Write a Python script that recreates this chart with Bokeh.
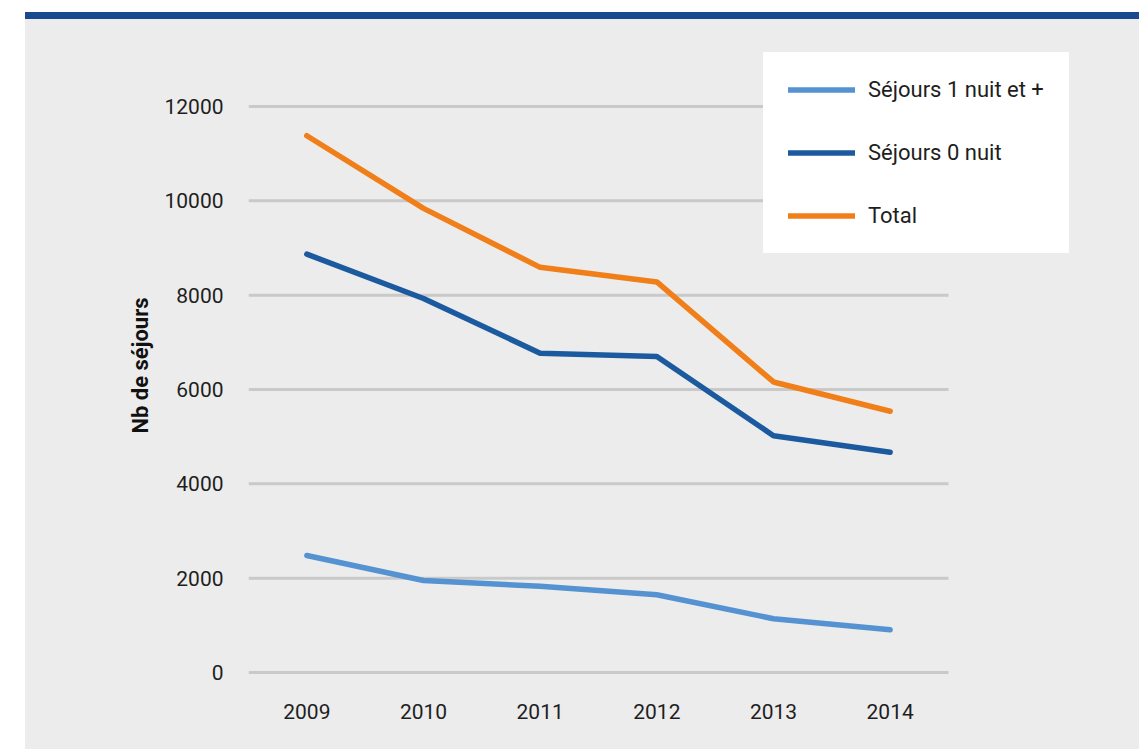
from bokeh.plotting import figure
from bokeh.models import (Range1d, FixedTicker, Legend, LegendItem, Div, Spacer,
                          ColumnDataSource)
from bokeh.layouts import row, column
from bokeh.embed import file_html
from bokeh.resources import INLINE

# ---- data ----
years = [2009, 2010, 2011, 2012, 2013, 2014]
year_labels = ["2009", "2010", "2011", "2012", "2013", "2014"]
sejours_1_nuit = [2480, 1950, 1830, 1650, 1140, 905]
sejours_0_nuit = [8870, 7930, 6770, 6700, 5020, 4670]
total = [11380, 9840, 8590, 8280, 6160, 5540]
y_ticks = [0, 2000, 4000, 6000, 8000, 10000, 12000]
series_names = ["Séjours 1 nuit et +", "Séjours 0 nuit", "Total"]
y_axis_title = "Nb de séjours"

# ---- styles ----
FONT = "Roboto"
BG = "#ececec"
TXT = "#1e1e1e"
colors = ["#5592d2", "#1c5aa0", "#f07f19"]

FIG_W, FIG_H = 1114, 730

p = figure(width=FIG_W, height=FIG_H, output_backend="svg", toolbar_location=None,
           x_range=Range1d(2008.5, 2015.803), y_range=Range1d(-381, 13399),
           min_border_left=223, min_border_right=39, min_border_top=21,
           min_border_bottom=59)
p.background_fill_color = BG
p.border_fill_color = BG
p.outline_line_color = None
p.grid.visible = False
p.styles = {"background-color": BG}

# grid lines as segments spanning the category band
gsrc = ColumnDataSource(dict(x0=[years[0] - 0.5] * len(y_ticks),
                             x1=[years[-1] + 0.5] * len(y_ticks),
                             y=y_ticks))
p.segment(x0="x0", x1="x1", y0="y", y1="y", source=gsrc,
          line_color="#c9c9c9", line_width=3)

renderers = []
for vals, col in zip([sejours_1_nuit, sejours_0_nuit, total], colors):
    r = p.line(years, vals, line_color=col, line_width=5.5,
               line_cap="round", line_join="round")
    renderers.append(r)

# axes
p.xaxis.ticker = FixedTicker(ticks=years)
p.xaxis.major_label_overrides = {y: l for y, l in zip(years, year_labels)}
p.yaxis.ticker = FixedTicker(ticks=y_ticks)
p.yaxis.major_label_overrides = {t: str(t) for t in y_ticks}
for ax in (p.xaxis[0], p.yaxis[0]):
    ax.axis_line_color = None
    ax.major_tick_line_color = None
    ax.minor_tick_line_color = None
    ax.major_label_text_font = FONT
    ax.major_label_text_font_size = "21px"
    ax.major_label_text_color = TXT
p.xaxis.major_label_standoff = 7
p.yaxis.major_label_standoff = 19
p.yaxis.axis_label = y_axis_title
p.yaxis.axis_label_text_font = FONT
p.yaxis.axis_label_text_font_size = "22px"
p.yaxis.axis_label_text_font_style = "bold"
p.yaxis.axis_label_text_color = "#111111"
p.yaxis.axis_label_standoff = 8

legend = Legend(items=[LegendItem(label=n, renderers=[r])
                       for n, r in zip(series_names, renderers)],
                location=(515, 437))
legend.glyph_width = 67
legend.glyph_height = 25
legend.label_height = 25
legend.spacing = 38
legend.padding = 0
legend.margin = 0
legend.label_standoff = 13
legend.label_text_font = FONT
legend.label_text_font_size = "22px"
legend.label_text_color = TXT
legend.background_fill_color = "white"
legend.background_fill_alpha = 1.0
legend.border_line_color = "white"
legend.border_line_width = 25
legend.border_line_join = "miter"
p.add_layout(legend, "center")

bar = Div(width=FIG_W, height=7, margin=0,
          styles={"background-color": "#1a4a8e"})
layout = row(Spacer(width=25, height=10, margin=0),
             column(Spacer(width=FIG_W, height=12, margin=0), bar, p, spacing=0),
             spacing=0)

open("out.html", "w").write(file_html(layout, INLINE))
